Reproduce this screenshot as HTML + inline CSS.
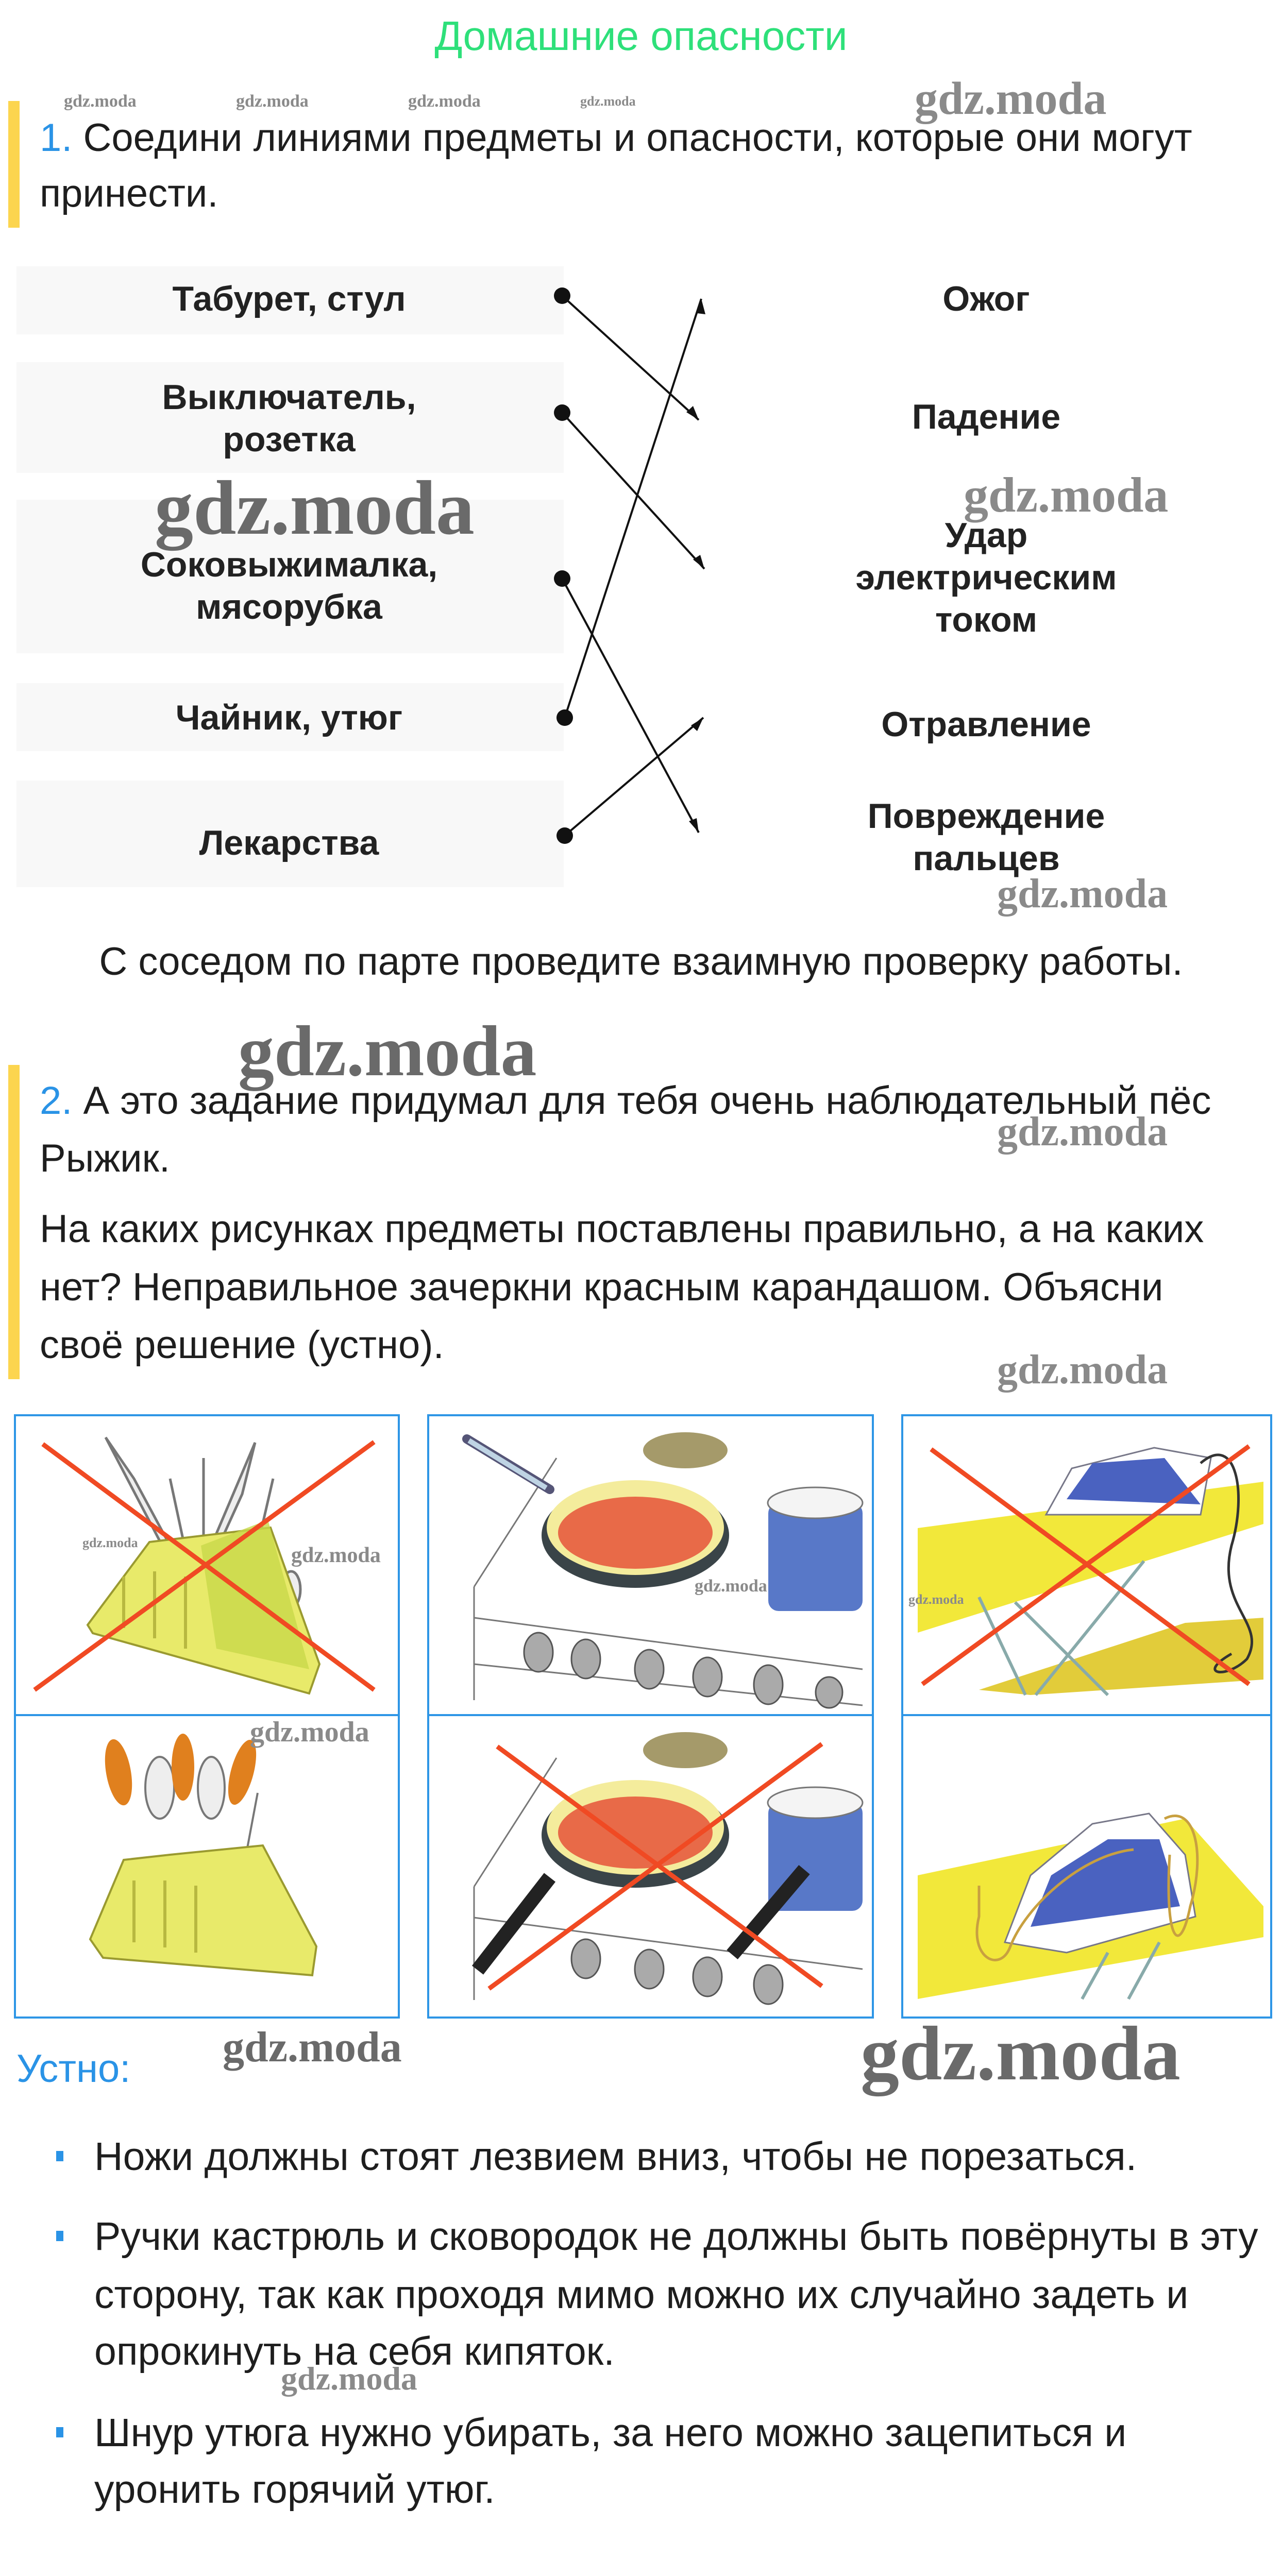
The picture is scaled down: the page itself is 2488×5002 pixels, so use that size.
<!DOCTYPE html>
<html><head><meta charset="utf-8">
<style>
html,body{margin:0;padding:0;background:#fff;}
body{width:2488px;height:5002px;position:relative;overflow:hidden;font-family:"Liberation Sans","Noto Sans CJK SC",sans-serif;color:#1e1e1e;}
.t{position:absolute;white-space:nowrap;font-size:76px;line-height:112px;}
.c{position:absolute;white-space:nowrap;text-align:center;font-size:68px;line-height:82px;font-weight:bold;color:#222;}
.wm{position:absolute;font-family:"Liberation Serif",serif;font-weight:bold;color:#8a8a8a;white-space:nowrap;}
.box{position:absolute;left:32px;width:1062px;background:#f8f8f8;}
.blue{color:#2a93e6;}
svg{position:absolute;left:0;top:0;}
</style></head><body>

<div class="t" style="left:0;width:2488px;text-align:center;top:20px;line-height:100px;font-size:80px;color:#2ee07a;">Домашние опасности</div>
<div class="wm" style="left:124px;top:178px;font-size:34px">gdz.moda</div>
<div class="wm" style="left:458px;top:178px;font-size:34px">gdz.moda</div>
<div class="wm" style="left:792px;top:178px;font-size:34px">gdz.moda</div>
<div class="wm" style="left:1126px;top:182px;font-size:26px">gdz.moda</div>
<div class="wm" style="left:1775px;top:140px;font-size:90px">gdz.moda</div>

<div style="position:absolute;left:16px;top:196px;width:22px;height:246px;background:#fcd54f"></div>
<div class="t" style="left:77px;top:212px"><span class="blue">1.</span> Соедини линиями предметы и опасности, которые они могут</div>
<div class="t" style="left:77px;top:320px">принести.</div>

<div class="box" style="top:517px;height:132px"></div>
<div class="box" style="top:703px;height:215px"></div>
<div class="box" style="top:970px;height:298px"></div>
<div class="box" style="top:1326px;height:132px"></div>
<div class="box" style="top:1515px;height:207px"></div>

<div class="c" style="left:61px;width:1000px;top:539px">Табурет, стул</div>
<div class="c" style="left:61px;width:1000px;top:730px">Выключатель,<br>розетка</div>
<div class="c" style="left:61px;width:1000px;top:1055px">Соковыжималка,<br>мясорубка</div>
<div class="c" style="left:61px;width:1000px;top:1352px">Чайник, утюг</div>
<div class="c" style="left:61px;width:1000px;top:1595px">Лекарства</div>

<div class="c" style="left:1414px;width:1000px;top:539px">Ожог</div>
<div class="c" style="left:1414px;width:1000px;top:768px">Падение</div>
<div class="c" style="left:1414px;width:1000px;top:998px">Удар<br>электрическим<br>током</div>
<div class="c" style="left:1414px;width:1000px;top:1365px">Отравление</div>
<div class="c" style="left:1414px;width:1000px;top:1543px">Повреждение<br>пальцев</div>

<div class="wm" style="left:300px;top:900px;font-size:150px;color:#6a6a6a">gdz.moda</div>
<div class="wm" style="left:1870px;top:905px;font-size:96px">gdz.moda</div>
<div class="wm" style="left:1935px;top:1690px;font-size:80px">gdz.moda</div>

<div class="t" style="left:0;width:2488px;text-align:center;top:1811px">С соседом по парте проведите взаимную проверку работы.</div>

<div class="wm" style="left:462px;top:1960px;font-size:140px;color:#6a6a6a">gdz.moda</div>
<div style="position:absolute;left:16px;top:2067px;width:22px;height:610px;background:#fcd54f"></div>
<div class="t" style="left:77px;top:2081px"><span class="blue">2.</span> А это задание придумал для тебя очень наблюдательный пёс</div>
<div class="t" style="left:77px;top:2193px">Рыжик.</div>
<div class="t" style="left:77px;top:2330px">На каких рисунках предметы поставлены правильно, а на каких</div>
<div class="t" style="left:77px;top:2443px">нет? Неправильное зачеркни красным карандашом. Объясни</div>
<div class="t" style="left:77px;top:2555px">своё решение (устно).</div>
<div class="wm" style="left:1935px;top:2152px;font-size:80px">gdz.moda</div>
<div class="wm" style="left:1935px;top:2614px;font-size:80px">gdz.moda</div>

<svg width="2488" height="5002" viewBox="0 0 2488 5002">
 <g stroke="#111" stroke-width="4" fill="none">
  <line x1="1091" y1="574" x2="1356" y2="815"/>
  <line x1="1091" y1="801" x2="1367" y2="1104"/>
  <line x1="1091" y1="1123" x2="1356" y2="1616"/>
  <line x1="1096" y1="1393" x2="1361" y2="580"/>
  <line x1="1096" y1="1622" x2="1365" y2="1393"/>
 </g>
 <g fill="#111">
  <circle cx="1091" cy="574" r="16"/><circle cx="1091" cy="801" r="16"/><circle cx="1091" cy="1123" r="16"/>
  <circle cx="1096" cy="1393" r="16"/><circle cx="1096" cy="1622" r="16"/>
  <polygon points="1356,815 1332,800 1345,788"/>
  <polygon points="1367,1104 1345,1086 1359,1077"/>
  <polygon points="1356,1616 1337,1594 1352,1588"/>
  <polygon points="1361,580 1353,608 1369,610"/>
  <polygon points="1365,1393 1353,1419 1341,1408"/>
 </g>

 <g fill="none" stroke="#2e96e6" stroke-width="4">
  <rect x="29" y="2747" width="745" height="1169"/>
  <line x1="29" y1="3329" x2="774" y2="3329"/>
  <rect x="831" y="2747" width="863" height="1169"/>
  <line x1="831" y1="3329" x2="1694" y2="3329"/>
  <rect x="1751" y="2747" width="716" height="1169"/>
  <line x1="1751" y1="3329" x2="2467" y2="3329"/>
 </g>

 <g stroke="#777" stroke-width="5" fill="#eee">
  <path d="M205 2790 L260 2870 L330 3000 L320 3010 Z"/>
  <path d="M495 2800 L470 2900 L420 3010 L410 3000 Z"/>
  <path d="M330 2870 L360 3010"/><path d="M395 2830 L395 3010"/><path d="M530 2870 L500 3000"/>
  <ellipse cx="520" cy="3070" rx="22" ry="40"/><ellipse cx="565" cy="3085" rx="18" ry="35"/>
 </g>
 <polygon points="170,3154 290,2993 525,2965 620,3230 600,3287 180,3170" fill="#e8ea6a" stroke="#9a9a30" stroke-width="4"/>
 <polygon points="390,3000 520,2950 600,3240 420,3200" fill="#c8d84a" opacity="0.8"/>
 <g stroke="#b8b840" stroke-width="6"><line x1="240" y1="3060" x2="240" y2="3160"/><line x1="300" y1="3050" x2="300" y2="3180"/><line x1="360" y1="3060" x2="360" y2="3200"/></g>
 <g stroke="#f04a23" stroke-width="9"><line x1="83" y1="2803" x2="726" y2="3280"/><line x1="726" y1="2799" x2="67" y2="3280"/></g>

 <g stroke="#777" stroke-width="4" fill="#eee">
  <ellipse cx="310" cy="3470" rx="28" ry="60"/><ellipse cx="410" cy="3470" rx="26" ry="60"/>
  <line x1="500" y1="3480" x2="470" y2="3640"/>
 </g>
 <g fill="#e0801e"><ellipse cx="230" cy="3440" rx="24" ry="65" transform="rotate(-10 230 3440)"/><ellipse cx="355" cy="3430" rx="22" ry="65"/><ellipse cx="470" cy="3440" rx="22" ry="65" transform="rotate(15 470 3440)"/></g>
 <polygon points="175,3764 240,3610 330,3600 510,3582 614,3778 606,3834 200,3800" fill="#e8ea6a" stroke="#9a9a30" stroke-width="4"/>
 <g stroke="#b8b840" stroke-width="6"><line x1="260" y1="3650" x2="260" y2="3770"/><line x1="320" y1="3650" x2="320" y2="3780"/><line x1="380" y1="3660" x2="380" y2="3790"/></g>

 <g>
  <path d="M920 3080 L1080 2830 M920 3080 L920 3300 M920 3140 L1674 3240 M920 3230 L1674 3310" stroke="#777" stroke-width="3" fill="none"/>
  <line x1="906" y1="2793" x2="1067" y2="2891" stroke="#557" stroke-width="18" stroke-linecap="round"/>
  <line x1="910" y1="2796" x2="1060" y2="2888" stroke="#bfd4e4" stroke-width="10"/>
  <ellipse cx="1330" cy="2815" rx="82" ry="35" fill="#a59a6a"/>
  <ellipse cx="1233" cy="2980" rx="182" ry="102" fill="#3a4448"/>
  <ellipse cx="1233" cy="2965" rx="172" ry="92" fill="#f4ec9c"/>
  <ellipse cx="1233" cy="2975" rx="150" ry="70" fill="#e86a48"/>
  <rect x="1491" y="2917" width="183" height="210" rx="20" fill="#5878c8"/>
  <ellipse cx="1582" cy="2917" rx="92" ry="30" fill="#f4f4f4" stroke="#777" stroke-width="3"/>
  <g fill="#aaa" stroke="#555" stroke-width="3">
   <ellipse cx="1045" cy="3207" rx="28" ry="38"/><ellipse cx="1137" cy="3220" rx="28" ry="38"/><ellipse cx="1260" cy="3240" rx="28" ry="38"/><ellipse cx="1373" cy="3255" rx="28" ry="38"/><ellipse cx="1491" cy="3270" rx="28" ry="38"/><ellipse cx="1609" cy="3285" rx="26" ry="30"/>
  </g>
 </g>
 <g transform="translate(0 582)">
  <path d="M920 3080 L1080 2830 M920 3080 L920 3300 M920 3140 L1674 3240" stroke="#777" stroke-width="3" fill="none"/>
  <ellipse cx="1330" cy="2815" rx="82" ry="35" fill="#a59a6a"/>
  <ellipse cx="1233" cy="2980" rx="182" ry="102" fill="#3a4448"/>
  <ellipse cx="1233" cy="2965" rx="172" ry="92" fill="#f4ec9c"/>
  <ellipse cx="1233" cy="2975" rx="150" ry="70" fill="#e86a48"/>
  <rect x="1491" y="2917" width="183" height="210" rx="20" fill="#5878c8"/>
  <ellipse cx="1582" cy="2917" rx="92" ry="30" fill="#f4f4f4" stroke="#777" stroke-width="3"/>
  <g fill="#aaa" stroke="#555" stroke-width="3">
   <ellipse cx="1137" cy="3220" rx="28" ry="38"/><ellipse cx="1260" cy="3240" rx="28" ry="38"/><ellipse cx="1373" cy="3255" rx="28" ry="38"/><ellipse cx="1491" cy="3270" rx="28" ry="38"/>
  </g>
 </g>
 <line x1="1067" y1="3644" x2="927" y2="3824" stroke="#222" stroke-width="28"/>
 <line x1="1561" y1="3629" x2="1421" y2="3794" stroke="#222" stroke-width="28"/>
 <g stroke="#f04a23" stroke-width="9"><line x1="965" y1="3390" x2="1595" y2="3855"/><line x1="1595" y1="3385" x2="949" y2="3860"/></g>

 <polygon points="1781,2966 2452,2876 2452,2958 1781,3169" fill="#f2e83a"/>
 <polygon points="1900,3280 2300,3150 2452,3140 2452,3260 2000,3290" fill="#e2cc3a"/>
 <g stroke="#8aa" stroke-width="6"><line x1="1900" y1="3100" x2="1990" y2="3290"/><line x1="2220" y1="3030" x2="2010" y2="3290"/><line x1="1970" y1="3110" x2="2150" y2="3290"/></g>
 <polygon points="2030,2940 2080,2850 2240,2810 2350,2830 2330,2940" fill="#ffffff" stroke="#778" stroke-width="3"/>
 <polygon points="2070,2910 2120,2840 2260,2830 2330,2920" fill="#4a62c0"/>
 <path d="M2330 2840 C2400 2780 2420 2900 2390 3000 C2360 3120 2460 3150 2420 3220 C2380 3260 2320 3250 2390 3210" stroke="#333" stroke-width="5" fill="none"/>
 <g stroke="#f04a23" stroke-width="9"><line x1="1807" y1="2813" x2="2424" y2="3269"/><line x1="2424" y1="2807" x2="1790" y2="3269"/></g>
 <polygon points="1781,3640 2300,3530 2452,3700 2452,3760 1781,3880" fill="#f2e83a"/>
 <g stroke="#8aa" stroke-width="6"><line x1="2150" y1="3790" x2="2100" y2="3880"/><line x1="2250" y1="3770" x2="2190" y2="3880"/></g>
 <polygon points="1950,3770 2000,3640 2120,3540 2230,3520 2300,3600 2320,3720 2070,3790" fill="#ffffff" stroke="#778" stroke-width="3"/>
 <polygon points="2000,3740 2040,3640 2150,3570 2250,3570 2290,3700" fill="#4a62c0"/>
 <path d="M2260 3530 C2320 3500 2340 3600 2310 3700 C2290 3800 2260 3770 2270 3600 M2200 3590 C2100 3600 1990 3700 1960 3780 C1940 3830 1880 3800 1900 3720 L1900 3660" stroke="#c8a040" stroke-width="5" fill="none"/>
</svg>

<div class="wm" style="left:160px;top:2980px;font-size:26px">gdz.moda</div>
<div class="wm" style="left:565px;top:2995px;font-size:42px">gdz.moda</div>
<div class="wm" style="left:1348px;top:3060px;font-size:34px">gdz.moda</div>
<div class="wm" style="left:1763px;top:3090px;font-size:26px">gdz.moda</div>
<div class="wm" style="left:485px;top:3330px;font-size:56px">gdz.moda</div>

<div class="t blue" style="left:32px;top:3960px">Устно:</div>
<div class="wm" style="left:432px;top:3925px;font-size:84px;color:#6a6a6a">gdz.moda</div>
<div class="wm" style="left:1670px;top:3900px;font-size:150px;color:#6a6a6a">gdz.moda</div>

<div style="position:absolute;left:109px;top:4175px;width:14px;height:20px;background:#2a93e6"></div>
<div class="t" style="left:183px;top:4130px;font-size:77px">Ножи должны стоят лезвием вниз, чтобы не порезаться.</div>
<div style="position:absolute;left:109px;top:4330px;width:14px;height:20px;background:#2a93e6"></div>
<div class="t" style="left:183px;top:4285px;font-size:77px">Ручки кастрюль и сковородок не должны быть повёрнуты в эту</div>
<div class="t" style="left:183px;top:4398px;font-size:77px">сторону, так как проходя мимо можно их случайно задеть и</div>
<div class="t" style="left:183px;top:4508px;font-size:77px">опрокинуть на себя кипяток.</div>
<div class="wm" style="left:545px;top:4580px;font-size:64px">gdz.moda</div>
<div style="position:absolute;left:109px;top:4711px;width:14px;height:20px;background:#2a93e6"></div>
<div class="t" style="left:183px;top:4666px;font-size:77px">Шнур утюга нужно убирать, за него можно зацепиться и</div>
<div class="t" style="left:183px;top:4776px;font-size:77px">уронить горячий утюг.</div>

</body></html>
